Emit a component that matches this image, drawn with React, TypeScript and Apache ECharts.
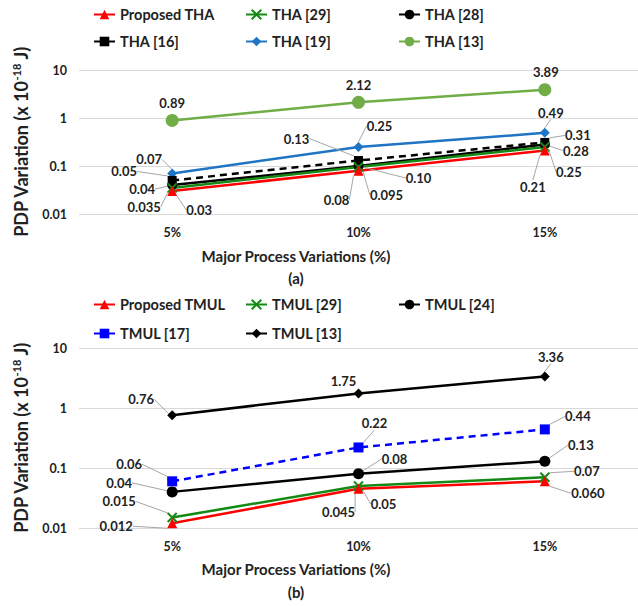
import React, { useEffect, useRef } from "react";
import * as echarts from "echarts";

// ---------- data ----------
const categories = ["5%", "10%", "15%"];

// (a) THA
const proposedTHA = [0.03, 0.08, 0.21];
const tha29 = [0.035, 0.095, 0.25];
const tha28 = [0.04, 0.1, 0.28];
const tha16 = [0.05, 0.13, 0.31];
const tha19 = [0.07, 0.25, 0.49];
const tha13 = [0.89, 2.12, 3.89];

// (b) TMUL
const proposedTMUL = [0.012, 0.045, 0.06];
const tmul29 = [0.015, 0.05, 0.07];
const tmul24 = [0.04, 0.08, 0.13];
const tmul17 = [0.06, 0.22, 0.44];
const tmul13 = [0.76, 1.75, 3.36];

// label decimals (how each value is printed)
const dec = {
  proposedTHA: [2, 2, 2],
  tha29: [3, 3, 2],
  tha28: [2, 2, 2],
  tha16: [2, 2, 2],
  tha19: [2, 2, 2],
  tha13: [2, 2, 2],
  proposedTMUL: [3, 3, 3],
  tmul29: [3, 2, 2],
  tmul24: [2, 2, 2],
  tmul17: [2, 2, 2],
  tmul13: [2, 2, 2],
};

// ---------- layout (label offsets from point, in px) ----------
const offs: Record<string, number[][]> = {
  proposedTHA: [[27, 19], [-22, 29], [-12, 36]],
  tha29: [[-28, 19], [28, 28], [24, 25]],
  tha28: [[-30, 4], [60, 12], [31, 6]],
  tha16: [[-48, -9], [-62, -22], [33, -7]],
  tha19: [[-23, -14], [21, -21], [6, -20]],
  tha13: [[0, -17], [0, -17], [1, -18]],
  proposedTMUL: [[-56, 3], [-20, 23], [43, 12]],
  tmul29: [[-53, -16], [25, 18], [42, -6]],
  tmul24: [[-53, -9], [36, -15], [36, -16]],
  tmul17: [[-43, -17], [16, -24], [33, -13]],
  tmul13: [[-31, -16], [-15, -12], [6, -19]],
};
const leader: Record<string, boolean[]> = {
  tha13: [false, false, false],
  tmul13: [true, false, true],
};

const FONT = "Lato, 'Noto Sans', sans-serif";
const TXT = "#222";
const xPath = "path://M0,0 L10,10 M10,0 L0,10";

function mk(
  key: string,
  name: string,
  values: number[],
  g: number,
  color: string,
  symbol: string,
  symbolSize: number,
  dashed = false,
  z = 2
) {
  const lines = leader[key] || [true, true, true];
  const isX = symbol === xPath;
  return {
    type: "line",
    name,
    xAxisIndex: g,
    yAxisIndex: g,
    z,
    data: values.map((v, i) => ({ value: v, labelLine: { show: lines[i] } })),
    symbol,
    symbolSize,
    showAllSymbol: true,
    lineStyle: { color, width: 2.5, type: dashed ? [7, 5] : "solid" },
    itemStyle: isX
      ? { color: "none", borderColor: color, borderWidth: 2 }
      : { color, borderColor: color, borderWidth: 0 },
    label: {
      show: true,
      position: "inside",
      formatter: (p: any) => values[p.dataIndex].toFixed((dec as any)[key][p.dataIndex]),
      fontFamily: FONT,
      fontWeight: "bold",
      fontSize: 13,
      color: TXT,
      textBorderWidth: 0,
    },
    labelLine: { show: true, lineStyle: { color: "#a6a6a6", width: 1 } },
    labelLayout: (p: any) => ({ dx: offs[key][p.dataIndex][0], dy: offs[key][p.dataIndex][1] }),
  };
}

const legendPos: [string, number, number, boolean][] = [
  ["Proposed THA", 93, 15, false],
  ["THA [29]", 245, 15, false],
  ["THA [28]", 398, 15, false],
  ["THA [16]", 93, 42, false],
  ["THA [19]", 245, 42, false],
  ["THA [13]", 398, 42, false],
  ["Proposed TMUL", 93, 305, false],
  ["TMUL [29]", 245, 305, false],
  ["TMUL [24]", 398, 305, false],
  ["TMUL [17]", 93, 333, true],
  ["TMUL [13]", 245, 333, true],
];

const grids = [
  { left: 79, width: 564, top: 70, height: 144 },
  { left: 79, width: 564, top: 348, height: 180 },
];

export default function App() {
  const ref = useRef<HTMLDivElement>(null);
  useEffect(() => {
    if (!ref.current) return;
    const chart = echarts.init(ref.current, undefined, { renderer: "svg" });
    const yAxis = grids.map((_, g) => ({
      type: "log",
      logBase: 10,
      min: 0.01,
      max: 10,
      gridIndex: g,
      axisLine: { show: false },
      axisTick: { show: false },
      splitLine: { show: true, lineStyle: { color: "#d9d9d9", width: 1 } },
      axisLabel: {
        fontFamily: FONT,
        fontWeight: "bold",
        fontSize: 12.5,
        color: TXT,
        margin: 12,
        formatter: (v: number) => String(v),
      },
      name: "PDP Variation (x 10{sup|-18} J)",
      nameLocation: "middle",
      nameRotate: 90,
      nameGap: 49,
      nameTextStyle: {
        fontFamily: FONT,
        fontWeight: "bold",
        fontSize: 18,
        color: TXT,
        rich: {
          sup: {
            fontFamily: FONT,
            fontWeight: "bold",
            fontSize: 11,
            color: TXT,
            padding: [0, 0, 8, 0],
          },
        },
      },
    }));
    const xAxis = grids.map((_, g) => ({
      type: "category",
      data: categories,
      gridIndex: g,
      boundaryGap: true,
      axisLine: { show: false },
      axisTick: { show: false },
      axisLabel: { fontFamily: FONT, fontWeight: "bold", fontSize: 12.5, color: TXT, margin: 12 },
    }));
    const series = [
      mk("tha13", "THA [13]", tha13, 0, "#70ad47", "circle", 13),
      mk("tha19", "THA [19]", tha19, 0, "#1f74c4", "diamond", 10),
      mk("tha16", "THA [16]", tha16, 0, "#000000", "rect", 9, true),
      mk("tha28", "THA [28]", tha28, 0, "#000000", "circle", 10),
      mk("tha29", "THA [29]", tha29, 0, "#148a14", xPath, 9),
      mk("proposedTHA", "Proposed THA", proposedTHA, 0, "#ff0000", "triangle", 10),
      mk("tmul13", "TMUL [13]", tmul13, 1, "#000000", "diamond", 10),
      mk("tmul17", "TMUL [17]", tmul17, 1, "#0000ff", "rect", 10, true),
      mk("tmul24", "TMUL [24]", tmul24, 1, "#000000", "circle", 11),
      mk("tmul29", "TMUL [29]", tmul29, 1, "#148a14", xPath, 9),
      mk("proposedTMUL", "Proposed TMUL", proposedTMUL, 1, "#ff0000", "triangle", 10),
    ];
    const legend = legendPos.map(([name, x, y, bg]) => ({
      data: [name],
      left: x,
      top: y - 8,
      padding: bg ? [1, 6, 6, 0] : 0,
      backgroundColor: bg ? "#fff" : "transparent",
      itemWidth: 21,
      itemHeight: 12,
      itemGap: 0,
      lineStyle: { type: "solid" },
      textStyle: { fontFamily: FONT, fontWeight: "bold", fontSize: 14.5, color: TXT },
    }));
    const tstyle = (text: string) => ({
      text,
      fontFamily: FONT,
      fontWeight: "bold",
      fontSize: 15,
      fill: TXT,
      textAlign: "center",
      textVerticalAlign: "middle",
    });
    chart.setOption({
      animation: false,
      backgroundColor: "#fff",
      grid: grids,
      xAxis,
      yAxis,
      legend,
      series,
      graphic: [
        { type: "text", x: 296, y: 256, style: tstyle("Major Process Variations (%)") },
        { type: "text", x: 296, y: 278, style: tstyle("(a)") },
        { type: "text", x: 296, y: 569, style: tstyle("Major Process Variations (%)") },
        { type: "text", x: 296, y: 592, style: tstyle("(b)") },
      ],
    });
    return () => chart.dispose();
  }, []);
  return (
    <div
      ref={ref}
      style={{ position: "absolute", left: 0, top: 0, width: 638, height: 606, background: "#fff" }}
    />
  );
}
